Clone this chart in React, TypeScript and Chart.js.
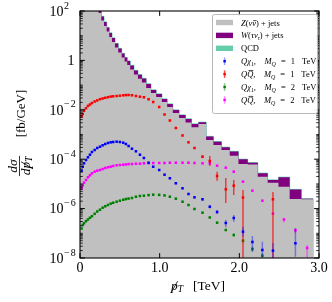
import React, { useEffect, useRef } from 'react';
import { Chart, registerables } from 'chart.js';

Chart.register(...registerables);

// ---------------- data ----------------
const binEdges = [0, 0.026, 0.041, 0.063, 0.088, 0.113, 0.138, 0.167, 0.201, 0.234, 0.267, 0.301, 0.335, 0.367, 0.401, 0.439, 0.480, 0.523, 0.560, 0.593, 0.630, 0.677, 0.727, 0.777, 0.831, 0.890, 0.956, 1.028, 1.094, 1.165, 1.244, 1.325, 1.400, 1.487, 1.583, 1.675, 1.776, 1.880, 1.989, 2.105, 2.231, 2.356, 2.491, 2.632, 2.778, 2.926];

const binCenters = [0.020, 0.034, 0.050, 0.075, 0.100, 0.125, 0.150, 0.184, 0.217, 0.251,
  0.284, 0.317, 0.351, 0.385, 0.417, 0.460, 0.501, 0.543, 0.576, 0.610,
  0.652, 0.702, 0.752, 0.802, 0.861, 0.919, 0.994, 1.061, 1.128, 1.203,
  1.287, 1.362, 1.437, 1.538, 1.629, 1.721, 1.830, 1.930, 2.046, 2.164,
  2.289, 2.422, 2.560, 2.704, 2.851];

const zJets = [2.0e4, 1.2e4, 6.0e3, 3.0e3, 1.5e3, 800, 450, 260, 150,
  83, 41.2, 24.7, 14.8, 8.85, 5.56, 3.33, 2.09, 1.31, 0.902, 0.652, 0.428, 0.269, 0.182, 0.127,
  0.0764, 0.0479, 0.0330, 0.0207, 0.0130, 7.42e-3, 4.66e-3, 3.06e-3, 1.95e-3, 2.66e-3,
  5.98e-4, 3.76e-4, 2.36e-4, 1.39e-4, 6.39e-5, 6.10e-5, 1.95e-5, 1.12e-5, 7.71e-6, 2.45e-6, 2.38e-6];

const wJets = [9.0e3, 5.5e3, 2.7e3, 1.4e3, 700, 370, 200, 110, 65,
  37.5, 18.7, 11.2, 6.7, 4.05, 2.51, 1.50, 0.94, 0.59, 0.408, 0.294, 0.194, 0.121, 0.082, 0.058,
  0.0346, 0.0155, 0.0106, 0.0067, 0.0042, 2.40e-3, 1.49e-3, 1.19e-3, 7.1e-4, 4.6e-4,
  2.32e-4, 1.36e-4, 6.7e-5, 6.6e-5, 3.52e-5, 1.11e-5, 7.4e-6, 3.2e-6, 1.08e-5, 3.48e-6, 1.1e-7];

const qcd = [300, 180, 90, 45, 22, 12, 6.5, 3.7, 2.2,
  1.2, 0.6, 0.36, 0.21, 0.13, 0.08, 0.048, 0.03, 0.019, 0.013, 9.5e-3, 6.2e-3, 3.9e-3, 2.6e-3, 1.8e-3,
  1.1e-3, 6.3e-4, 4.4e-4, 2.7e-4, 1.7e-4, 9.8e-5, 6.2e-5, 4.2e-5, 2.7e-5, 3.1e-5,
  8.3e-6, 5.1e-6, 3.0e-6, 2.0e-6, 1.0e-6, 7.2e-7, 2.7e-7, 1.4e-7, 1.8e-7, 6.0e-8, 2.5e-8];

const qChi1TeV = [3.42e-5, 4.97e-5, 6.83e-5, 9.29e-5, 1.19e-4, 1.52e-4, 1.95e-4, 2.36e-4, 2.84e-4, 3.21e-4,
  3.66e-4, 4.12e-4, 4.53e-4, 4.83e-4, 4.97e-4, 5.12e-4, 4.97e-4, 4.66e-4, 4.12e-4, 3.42e-4,
  2.66e-4, 2.09e-4, 1.52e-4, 1.12e-4, 7.21e-5, 4.97e-5, 3.66e-5, 2.36e-5, 1.69e-5, 1.06e-5,
  6.64e-6, 3.90e-6, 2.86e-6, 2.38e-6, 1.19e-6, 7.28e-7, 2.61e-7, 4.16e-7, 1.16e-7, 4.45e-8,
  2.11e-8, 1.98e-8, null, 3.94e-8, null];

const qq1TeV = [5.36e-3, 6.76e-3, 9.12e-3, 1.15e-2, 1.43e-2, 1.64e-2, 1.88e-2, 2.17e-2, 2.40e-2, 2.69e-2,
  2.87e-2, 3.06e-2, 3.24e-2, 3.42e-2, 3.52e-2, 3.62e-2, 3.72e-2, 3.87e-2, 3.94e-2, 3.97e-2,
  3.87e-2, 3.62e-2, 3.39e-2, 3.21e-2, 2.66e-2, 2.07e-2, 1.30e-2, 6.45e-3, 3.69e-3, 1.83e-3,
  9.12e-4, 4.83e-4, 2.84e-4, 1.26e-4, 8.45e-5, 2.09e-5, 6.04e-6, 8.45e-6, 2.81e-6, null,
  null, 2.38e-6, null, null, null];

const qChi2TeV = [1.56e-7, 2.17e-7, 2.54e-7, 3.09e-7, 3.62e-7, 4.25e-7, 4.92e-7, 6.15e-7, 7.64e-7, 9.02e-7,
  1.09e-6, 1.24e-6, 1.40e-6, 1.59e-6, 1.73e-6, 1.90e-6, 2.09e-6, 2.29e-6, 2.43e-6, 2.54e-6,
  2.69e-6, 3.03e-6, 3.24e-6, 3.33e-6, 3.52e-6, 3.66e-6, 3.60e-6, 3.42e-6, 3.03e-6, 2.52e-6,
  1.90e-6, 1.40e-6, 9.64e-7, 6.83e-7, 4.37e-7, 2.69e-7, 1.36e-7, 8.53e-8, 4.97e-8, 2.31e-8,
  1.24e-8, null, null, null, null];

const qq2TeV = [6.64e-6, 8.77e-6, 1.12e-5, 1.44e-5, 1.85e-5, 2.23e-5, 2.69e-5, 3.12e-5, 3.42e-5, 3.66e-5,
  4.01e-5, 4.41e-5, 4.70e-5, 4.97e-5, 5.31e-5, 5.66e-5, 5.82e-5, 5.98e-5, 6.15e-5, 6.33e-5,
  6.39e-5, 6.58e-5, 6.58e-5, 6.83e-5, 6.90e-5, 7.02e-5, 7.02e-5, 7.02e-5, 7.21e-5, 7.21e-5,
  7.21e-5, 7.21e-5, 7.02e-5, 6.83e-5, 6.83e-5, 5.46e-5, 4.53e-5, 3.12e-5, 1.23e-5, 5.31e-6,
  2.09e-6, 6.22e-7, 3.62e-7, 1.32e-7, 2.54e-8];

// error bars: [bin index, low, high]
const qChi1TeVErr = [[33, 2.1e-6, 2.7e-6], [34, 1.0e-6, 1.4e-6], [35, 6.0e-7, 8.8e-7], [36, 1.75e-7, 3.45e-7], [37, 2.95e-7, 5.51e-7], [38, 7.28e-8, 1.85e-7], [39, 1.80e-8, 7.78e-8], [40, 1.13e-8, 4.57e-8], [41, 1e-9, 4.05e-8], [43, 1.13e-8, 1.59e-7]];
const qq1TeVErr = [[33, 1.1e-4, 1.45e-4], [34, 5.31e-5, 1.35e-4], [35, 1.35e-5, 3.12e-5], [36, 1.69e-6, 1.73e-5], [37, 3.56e-6, 1.44e-5], [38, 1e-9, 5.66e-6], [41, 1e-9, 4.70e-6]];
const qChi2TeVErr = [[37, 7.5e-8, 9.7e-8], [38, 4.2e-8, 5.9e-8], [39, 1.80e-8, 2.86e-8], [40, 9e-9, 1.55e-8]];
const qq2TeVErr = [[41, 5.5e-7, 7.0e-7], [42, 2.79e-7, 4.05e-7], [43, 1.0e-7, 1.59e-7], [44, 1e-9, 3.36e-8]];

const yMajorTicks = [1e-8, 1e-6, 1e-4, 1e-2, 1, 1e2];
const yTickLabels = [['10', '−8'], ['10', '−6'], ['10', '−4'], ['10', '−2'], ['1', ''], ['10', '2']];
const xMajorTicks = [0, 1, 2, 3];
const xTickLabels = ['0', '1.0', '2.0', '3.0'];

// ---------------- text helpers ----------------
const SERIF = '"Liberation Serif", "DejaVu Serif", serif';

type Seg = { t: string; it?: boolean; sub?: boolean; bar?: 'x' | 'cap'; slash?: boolean; gap?: number };

function drawRich(ctx: any, x: number, y: number, segs: Seg[], size: number, draw = true) {
  let cx = x;
  for (const s of segs) {
    cx += (s.gap || 0) * size;
    const fs = s.sub ? size * 0.7 : size;
    ctx.font = `${s.it ? 'italic ' : ''}${fs}px ${SERIF}`;
    const yy = s.sub ? y + size * 0.2 : y;
    const w = ctx.measureText(s.t).width;
    if (draw) {
      ctx.fillText(s.t, cx, yy);
      if (s.bar) {
        const by = y - size * (s.bar === 'cap' ? 0.82 : 0.6);
        ctx.fillRect(cx + w * 0.22, by, w * 0.78, Math.max(0.7, size * 0.055));
      }
      if (s.slash) {
        ctx.beginPath();
        ctx.moveTo(cx + w * 0.0, y + size * 0.26);
        ctx.lineTo(cx + w * 1.0, y - size * 0.62);
        ctx.lineWidth = Math.max(0.8, size * 0.06);
        ctx.stroke();
      }
    }
    cx += w;
  }
  return cx - x;
}

const labelZ: Seg[] = [{ t: 'Z', it: true }, { t: '(' }, { t: 'ν', it: true }, { t: 'ν', it: true, bar: 'x' }, { t: ')' }, { t: '+', gap: 0.25 }, { t: 'jets', gap: 0.25 }];
const labelW: Seg[] = [{ t: 'W', it: true }, { t: '(' }, { t: 'τ', it: true }, { t: 'ν', it: true }, { t: 'τ', it: true, sub: true }, { t: ')' }, { t: '+', gap: 0.25 }, { t: 'jets', gap: 0.25 }];
const labelQCD: Seg[] = [{ t: 'QCD' }];
const labelA1: Seg[] = [{ t: 'Q', it: true }, { t: 'χ', it: true }, { t: '1', sub: true }, { t: ',' }, { t: 'M', it: true, gap: 1.0 }, { t: 'Q', it: true, sub: true }, { t: '=', gap: 0.6 }, { t: '1', gap: 0.6 }, { t: 'TeV', gap: 0.8 }];
const labelB1: Seg[] = [{ t: 'Q', it: true }, { t: 'Q', it: true, bar: 'cap' }, { t: ',' }, { t: 'M', it: true, gap: 1.0 }, { t: 'Q', it: true, sub: true }, { t: '=', gap: 0.6 }, { t: '1', gap: 0.6 }, { t: 'TeV', gap: 0.8 }];
const labelA2: Seg[] = [{ t: 'Q', it: true }, { t: 'χ', it: true }, { t: '1', sub: true }, { t: ',' }, { t: 'M', it: true, gap: 1.0 }, { t: 'Q', it: true, sub: true }, { t: '=', gap: 0.6 }, { t: '2', gap: 0.6 }, { t: 'TeV', gap: 0.8 }];
const labelB2: Seg[] = [{ t: 'Q', it: true }, { t: 'Q', it: true, bar: 'cap' }, { t: ',' }, { t: 'M', it: true, gap: 1.0 }, { t: 'Q', it: true, sub: true }, { t: '=', gap: 0.6 }, { t: '2', gap: 0.6 }, { t: 'TeV', gap: 0.8 }];

const xLabel: Seg[] = [{ t: 'p', it: true, slash: true }, { t: 'T', it: true, sub: true }, { t: '[TeV]', gap: 0.75 }];
const yUnit: Seg[] = [{ t: '[fb/GeV]' }];
const yNum: Seg[] = [{ t: 'd', it: true }, { t: 'σ', it: true }];
const yDen: Seg[] = [{ t: 'd', it: true }, { t: 'p', it: true, slash: true }, { t: 'T', it: true, sub: true }];

const signalSeries = [
  { values: qChi1TeV, err: qChi1TeVErr, color: '#0000ff', errColor: 'rgba(0,0,255,0.4)', label: labelA1 },
  { values: qq1TeV, err: qq1TeVErr, color: '#ff0000', errColor: 'rgba(255,0,0,0.7)', label: labelB1 },
  { values: qChi2TeV, err: qChi2TeVErr, color: '#008000', errColor: 'rgba(0,128,0,0.45)', label: labelA2 },
  { values: qq2TeV, err: qq2TeVErr, color: '#ff00ff', errColor: 'rgba(255,0,255,0.45)', label: labelB2 },
];

const histColors = { z: '#c0c0c0', w: '#800080', qcd: '#66cdaa' };

// ---------------- plugins ----------------
const errorBarPlugin = {
  id: 'errbars',
  beforeDatasetDraw(chart: any, args: any) {
    const info = signalSeries[args.index];
    if (!info) return;
    const ctx = chart.ctx;
    const a = chart.chartArea;
    const xs = chart.scales.x;
    const ys = chart.scales.y;
    ctx.save();
    ctx.beginPath();
    ctx.rect(a.left, a.top, a.right - a.left, a.bottom - a.top);
    ctx.clip();
    ctx.strokeStyle = info.errColor;
    ctx.lineWidth = 1.5;
    for (const [i, lo, hi] of info.err) {
      const x = xs.getPixelForValue(binCenters[i]);
      ctx.beginPath();
      ctx.moveTo(x, ys.getPixelForValue(hi));
      ctx.lineTo(x, ys.getPixelForValue(lo));
      ctx.stroke();
    }
    ctx.restore();
  },
};

const axesPlugin = {
  id: 'axesdeco',
  afterDraw(chart: any) {
    const ctx = chart.ctx;
    const a = chart.chartArea;
    const xs = chart.scales.x;
    const ys = chart.scales.y;
    ctx.save();
    ctx.strokeStyle = '#000';
    ctx.fillStyle = '#000';
    const seg = (x1: number, y1: number, x2: number, y2: number) => {
      ctx.beginPath(); ctx.moveTo(x1, y1); ctx.lineTo(x2, y2); ctx.stroke();
    };
    // y minor ticks
    ctx.lineWidth = 0.8;
    for (let e = -8; e < 2; e++) {
      for (let k = 1; k <= 9; k++) {
        const v = k * Math.pow(10, e);
        if (k === 1 && e % 2 === 0) continue;
        const y = ys.getPixelForValue(v);
        seg(a.left, y, a.left + 2.8, y);
        seg(a.right, y, a.right - 2.8, y);
      }
    }
    // y major ticks
    ctx.lineWidth = 1;
    for (const v of yMajorTicks) {
      const y = ys.getPixelForValue(v);
      seg(a.left, y, a.left + 4.9, y);
      seg(a.right, y, a.right - 4.9, y);
    }
    // x major ticks
    for (const v of xMajorTicks) {
      const x = xs.getPixelForValue(v);
      seg(x, a.bottom, x, a.bottom - 4.9);
      seg(x, a.top, x, a.top + 4.9);
    }
    // frame
    ctx.lineWidth = 1.1;
    ctx.strokeRect(a.left, a.top, a.right - a.left, a.bottom - a.top);

    // tick labels
    ctx.textBaseline = 'alphabetic';
    ctx.textAlign = 'left';
    yMajorTicks.forEach((v, i) => {
      const y = ys.getPixelForValue(v);
      const [base, sup] = yTickLabels[i];
      ctx.font = `14px ${SERIF}`;
      if (!sup) {
        const w = ctx.measureText(base).width;
        ctx.fillText(base, a.left - 5.5 - w, y + 4.8);
      } else {
        ctx.fillText(base, a.left - 30.5, y + 4.8);
        const w = ctx.measureText(base).width;
        ctx.font = `10px ${SERIF}`;
        let sx = a.left - 30.5 + w + 0.5;
        for (const ch of sup) {
          ctx.fillText(ch, sx, y + 4.8 - 7.3);
          sx += ctx.measureText(ch).width + (ch === '−' ? 1.2 : 0);
        }
      }
    });
    ctx.font = `14px ${SERIF}`;
    ctx.textAlign = 'center';
    xMajorTicks.forEach((v, i) => {
      ctx.fillText(xTickLabels[i], xs.getPixelForValue(v), 271.5);
    });
    ctx.textAlign = 'left';

    // x axis label
    const cx = (a.left + a.right) / 2 - 1.5;
    const xw = drawRich(ctx, 0, 0, xLabel, 13.5, false);
    drawRich(ctx, cx - xw / 2, 289.5, xLabel, 13.5);

    // y axis label (rotated)
    ctx.save();
    ctx.rotate(-Math.PI / 2);
    const uw = drawRich(ctx, 0, 0, yUnit, 13, false);
    drawRich(ctx, -113.5 - uw / 2, 25, yUnit, 13);
    const fy = 166;
    const nw = drawRich(ctx, 0, 0, yNum, 13.5, false);
    drawRich(ctx, -fy - nw / 2, 17, yNum, 13.5);
    const dw = drawRich(ctx, 0, 0, yDen, 13.5, false);
    drawRich(ctx, -fy - dw / 2, 29.5, yDen, 13.5);
    const bl = Math.max(nw, dw) + 1.5;
    ctx.fillRect(-fy - bl / 2, 19.1, bl, 0.8);
    ctx.restore();

    // legend
    const lx = 212.5, ly = 14.5, lw = 105, lh = 99;
    ctx.beginPath();
    const r = 2;
    ctx.moveTo(lx + r, ly);
    ctx.arcTo(lx + lw, ly, lx + lw, ly + lh, r);
    ctx.arcTo(lx + lw, ly + lh, lx, ly + lh, r);
    ctx.arcTo(lx, ly + lh, lx, ly, r);
    ctx.arcTo(lx, ly, lx + lw, ly, r);
    ctx.closePath();
    ctx.fillStyle = 'rgba(255,255,255,0.9)';
    ctx.fill();
    ctx.strokeStyle = '#b8b8b8';
    ctx.lineWidth = 1;
    ctx.stroke();

    const rows = [
      { kind: 'patch', color: histColors.z, label: labelZ },
      { kind: 'patch', color: histColors.w, label: labelW },
      { kind: 'patch', color: histColors.qcd, label: labelQCD },
      ...signalSeries.map((s) => ({ kind: 'err', color: s.color, err: s.errColor, label: s.label })),
    ];
    const fs = 8.5;
    rows.forEach((row: any, i: number) => {
      const cy = 22.5 + i * 12.9;
      if (row.kind === 'patch') {
        ctx.fillStyle = row.color;
        ctx.fillRect(216, cy - 2.7, 17, 5.4);
      } else {
        ctx.strokeStyle = row.err;
        ctx.lineWidth = 1.5;
        seg(224.6, cy - 3.8, 224.6, cy + 3.8);
        ctx.fillStyle = row.color;
        ctx.fillRect(224.6 - 1.2, cy - 1.2, 2.4, 2.4);
      }
      ctx.fillStyle = '#000';
      ctx.strokeStyle = '#000';
      drawRich(ctx, 241, cy + 3, row.label, fs);
    });
    ctx.restore();
  },
};

// ---------------- component ----------------
export default function App() {
  const ref = useRef<HTMLCanvasElement>(null);
  useEffect(() => {
    const canvas = ref.current;
    if (!canvas) return;
    const zw = zJets.map((v, i) => v + wJets[i]);
    const tot = zw.map((v, i) => v + qcd[i]);
    const step = (vals: number[]) => {
      const pts = vals.map((v, i) => ({ x: binEdges[i], y: v }));
      const n = vals.length;
      pts.push({ x: binEdges[n], y: vals[n - 1] });
      pts.push({ x: binEdges[n], y: 1e-12 });
      return pts;
    };
    const hist = (vals: number[], fillColor: string, border: string) => ({
      type: 'line',
      data: step(vals),
      stepped: true,
      fill: 'start',
      backgroundColor: fillColor,
      borderColor: border,
      borderWidth: 1,
      pointRadius: 0,
      tension: 0,
    });
    const sig = signalSeries.map((s) => ({
      type: 'line',
      data: binCenters
        .map((x, i) => ({ x, y: s.values[i] }))
        .filter((p) => p.y !== null && p.y !== undefined),
      showLine: false,
      fill: false,
      pointStyle: 'rect',
      pointRadius: 1.8,
      pointBorderWidth: 0,
      pointBackgroundColor: s.color,
      borderColor: s.color,
      backgroundColor: s.color,
    }));
    const chart = new Chart(canvas, {
      type: 'line',
      data: {
        datasets: [
          ...sig,
          hist(zJets, histColors.z, 'rgba(0,0,0,0)'),
          hist(zw, histColors.w, 'rgba(0,0,0,0)'),
          hist(tot, histColors.qcd, histColors.qcd),
        ] as any,
      },
      options: {
        animation: false,
        responsive: false,
        devicePixelRatio: 1,
        events: [],
        layout: { padding: { left: 80, top: 11, right: 13, bottom: 44 } },
        scales: {
          x: { type: 'linear', min: 0, max: 3, display: false },
          y: { type: 'logarithmic', min: 1e-8, max: 100, display: false },
        },
        plugins: { legend: { display: false }, tooltip: { enabled: false } },
      } as any,
      plugins: [errorBarPlugin, axesPlugin],
    });
    return () => chart.destroy();
  }, []);
  return (
    <div style={{ position: 'absolute', left: 0, top: 0, width: 332, height: 302, background: '#fff' }}>
      <canvas ref={ref} width={332} height={302} style={{ display: 'block', width: 332, height: 302 }} />
    </div>
  );
}
